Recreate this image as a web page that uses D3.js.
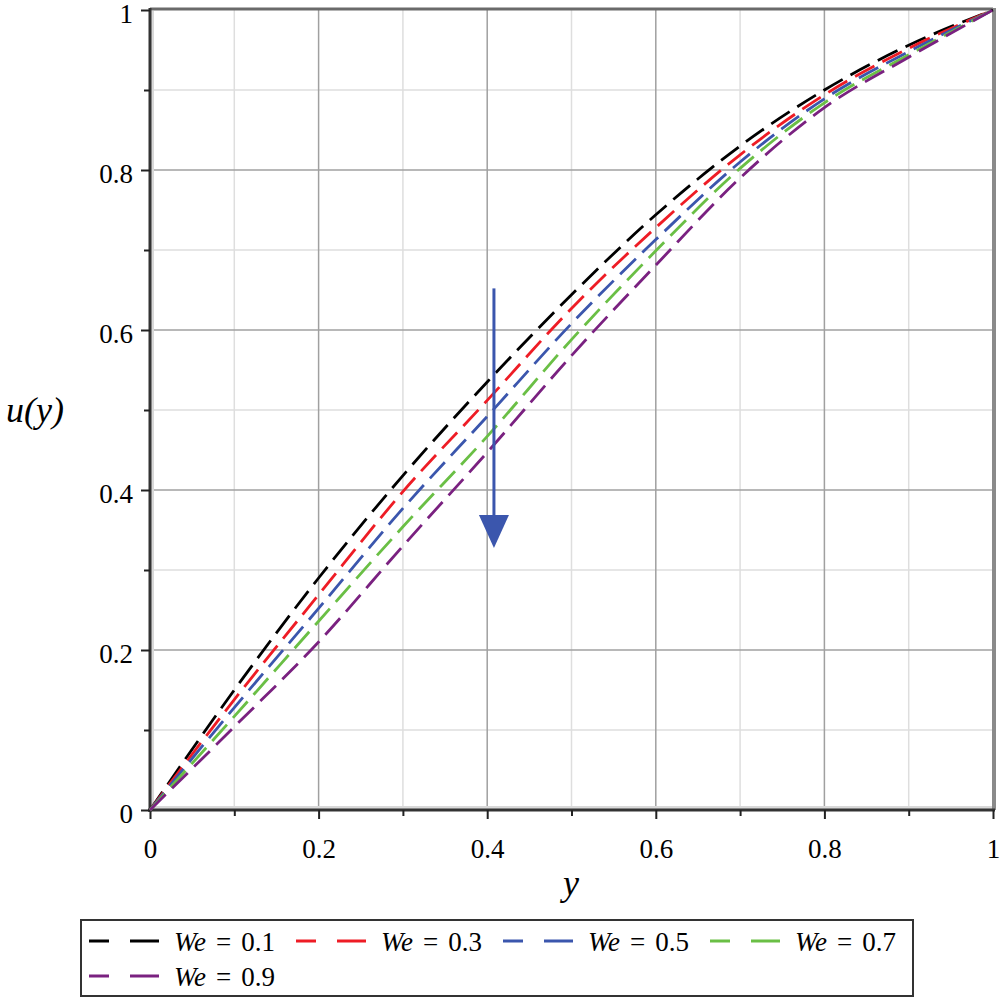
<!DOCTYPE html>
<html>
<head>
<meta charset="utf-8">
<script src="https://cdn.jsdelivr.net/npm/d3@7"></script>
<style>
  body { margin: 0; background: #fff; }
  svg text { font-family: "Liberation Serif", "DejaVu Serif", "Noto Serif", serif; }
</style>
</head>
<body>
<script>
// data
var yPts = [0, 0.1, 0.2, 0.3, 0.4, 0.5, 0.6, 0.7, 0.8, 0.9, 1];
var u01 = [0, 0.150, 0.290, 0.418, 0.535, 0.644, 0.744, 0.830, 0.900, 0.956, 1];
var u03 = [0, 0.138, 0.269, 0.398, 0.512, 0.627, 0.728, 0.819, 0.894, 0.952, 1];
var u05 = [0, 0.128, 0.252, 0.377, 0.492, 0.608, 0.713, 0.810, 0.889, 0.948, 1];
var u07 = [0, 0.117, 0.236, 0.354, 0.467, 0.588, 0.699, 0.802, 0.884, 0.944, 1];
var u09 = [0, 0.104, 0.210, 0.330, 0.447, 0.568, 0.681, 0.790, 0.878, 0.941, 1];
var weLabels = ["0.1", "0.3", "0.5", "0.7", "0.9"];
var colors = ["#000000", "#ee1c25", "#3b56ad", "#6abf45", "#7a2180"];
var xTicks = [0, 0.2, 0.4, 0.6, 0.8, 1];
var yTicks = [0, 0.2, 0.4, 0.6, 0.8, 1];

var series = [u01, u03, u05, u07, u09].map(function(vals, i) {
  return { we: weLabels[i], color: colors[i],
           pts: yPts.map(function(y, j) { return { y: y, u: vals[j] }; }) };
});

var W = 1006, H = 1003;
var margin = {top: 10, right: 13, bottom: 193, left: 150},
    width = W - margin.left - margin.right,
    height = H - margin.top - margin.bottom;

var serif = '"Liberation Serif", "DejaVu Serif", serif';

var svg = d3.select("body").append("svg")
    .attr("width", W)
    .attr("height", H);

var x = d3.scaleLinear().domain([0, 1]).range([0, width]);
var yS = d3.scaleLinear().domain([0, 1]).range([height, 0]);

var g = svg.append("g")
    .attr("transform", "translate(" + margin.left + "," + margin.top + ")");

// grid
var minor = d3.range(0.1, 1, 0.2);
g.selectAll(".vminor").data(minor).enter().append("line")
    .attr("x1", function(d) { return x(d); }).attr("x2", function(d) { return x(d); })
    .attr("y1", 0).attr("y2", height)
    .attr("stroke", "#dedede").attr("stroke-width", 1.5);
g.selectAll(".hminor").data(minor).enter().append("line")
    .attr("y1", function(d) { return yS(d); }).attr("y2", function(d) { return yS(d); })
    .attr("x1", 0).attr("x2", width)
    .attr("stroke", "#dedede").attr("stroke-width", 1.5);
g.selectAll(".vmajor").data(xTicks.slice(1, -1)).enter().append("line")
    .attr("x1", function(d) { return x(d); }).attr("x2", function(d) { return x(d); })
    .attr("y1", 0).attr("y2", height)
    .attr("stroke", "#a0a0a0").attr("stroke-width", 1.5);
g.selectAll(".hmajor").data(yTicks.slice(1, -1)).enter().append("line")
    .attr("y1", function(d) { return yS(d); }).attr("y2", function(d) { return yS(d); })
    .attr("x1", 0).attr("x2", width)
    .attr("stroke", "#a0a0a0").attr("stroke-width", 1.5);

// frame shading
g.append("rect").attr("x", 1).attr("y", 1).attr("width", 3).attr("height", height - 1)
    .attr("fill", "#d8d8d8");
g.append("rect").attr("x", 1).attr("y", height - 4).attr("width", width).attr("height", 3)
    .attr("fill", "#d8d8d8");
g.append("line").attr("x1", 0).attr("x2", width).attr("y1", -1).attr("y2", -1)
    .attr("stroke", "#6a6a6a").attr("stroke-width", 3);
g.append("line").attr("x1", width + 1).attr("x2", width + 1).attr("y1", -2).attr("y2", height)
    .attr("stroke", "#8a8a8a").attr("stroke-width", 4);

function fmt(d) {
  var r = Math.round(d * 10);
  return r % 2 === 0 ? d3.format("~g")(r / 10) : "";
}

// axes
var xAxis = g.append("g")
    .attr("transform", "translate(0," + height + ")")
    .call(d3.axisBottom(x).tickValues(d3.range(0, 1.01, 0.1)).tickSize(7).tickFormat(fmt));
xAxis.select(".domain").attr("stroke", "#333").attr("stroke-width", 3).attr("d", "M-2,0H" + (width + 2));
xAxis.selectAll(".tick line").attr("stroke", "#222").attr("stroke-width", 2)
    .attr("y2", function(d) { return Math.round(d * 10) % 2 === 0 ? 9 : 6; });
xAxis.selectAll(".tick text").attr("y", 48).attr("dy", null).attr("fill", "#000")
    .style("font-size", "27px").style("font-family", serif);

var yAxis = g.append("g")
    .call(d3.axisLeft(yS).tickValues(d3.range(0, 1.01, 0.1)).tickSize(7).tickFormat(fmt));
yAxis.select(".domain").attr("stroke", "#333").attr("stroke-width", 3).attr("d", "M0," + (height + 2) + "V-2");
yAxis.selectAll(".tick line").attr("stroke", "#222").attr("stroke-width", 2)
    .attr("x2", function(d) { return Math.round(d * 10) % 2 === 0 ? -9 : -6; });
yAxis.selectAll(".tick text").attr("x", -17).attr("dy", "0.47em").attr("fill", "#000")
    .style("font-size", "27px").style("font-family", serif);

// curves
var line = d3.line()
    .x(function(d) { return x(d.y); })
    .y(function(d) { return yS(d.u); })
    .curve(d3.curveMonotoneX);

g.selectAll(".curve").data(series).enter().append("path")
    .attr("class", "curve")
    .attr("d", function(d) { return line(d.pts); })
    .attr("fill", "none")
    .attr("stroke", function(d) { return d.color; })
    .attr("stroke-width", 2.8)
    .attr("stroke-dasharray", "22,9");

// arrow
var ax = x(0.408), ay0 = yS(0.652), ay1 = yS(0.33);
g.append("line").attr("x1", ax).attr("x2", ax).attr("y1", ay0).attr("y2", ay1 - 4)
    .attr("stroke", "#3b56ad").attr("stroke-width", 3);
g.append("path")
    .attr("d", "M" + (ax - 15) + "," + (ay1 - 31) + "L" + (ax + 15) + "," + (ay1 - 31) + "L" + ax + "," + (ay1 + 2) + "Z")
    .attr("fill", "#3b56ad");

// axis titles
svg.append("text")
    .attr("x", 35).attr("y", 422)
    .attr("text-anchor", "middle")
    .style("font-size", "36px").style("font-style", "italic").style("font-family", serif)
    .text("u(y)");
svg.append("text")
    .attr("x", 571).attr("y", 895)
    .attr("text-anchor", "middle")
    .style("font-size", "36px").style("font-style", "italic").style("font-family", serif)
    .text("y");

// legend
var lg = svg.append("g");
lg.append("rect").attr("x", 81).attr("y", 920).attr("width", 832).attr("height", 76)
    .attr("fill", "#fff").attr("stroke", "#333").attr("stroke-width", 2);
var pos = [[89, 941], [296, 941], [503, 941], [710, 941], [89, 976]];
series.forEach(function(s, i) {
  var p = pos[i];
  var item = lg.append("g").attr("transform", "translate(" + p[0] + "," + p[1] + ")");
  item.append("line").attr("x1", 0).attr("x2", 70).attr("y1", 0).attr("y2", 0)
      .attr("stroke", s.color).attr("stroke-width", 3).attr("stroke-dasharray", "20,21,29");
  var t = item.append("text").attr("x", 85).attr("y", 10)
      .style("font-size", "27px").style("font-family", serif);
  t.append("tspan").style("font-style", "italic").text("We");
  t.append("tspan").attr("dx", 10).text("=");
  t.append("tspan").attr("dx", 10).text(s.we);
});
</script>
</body>
</html>
